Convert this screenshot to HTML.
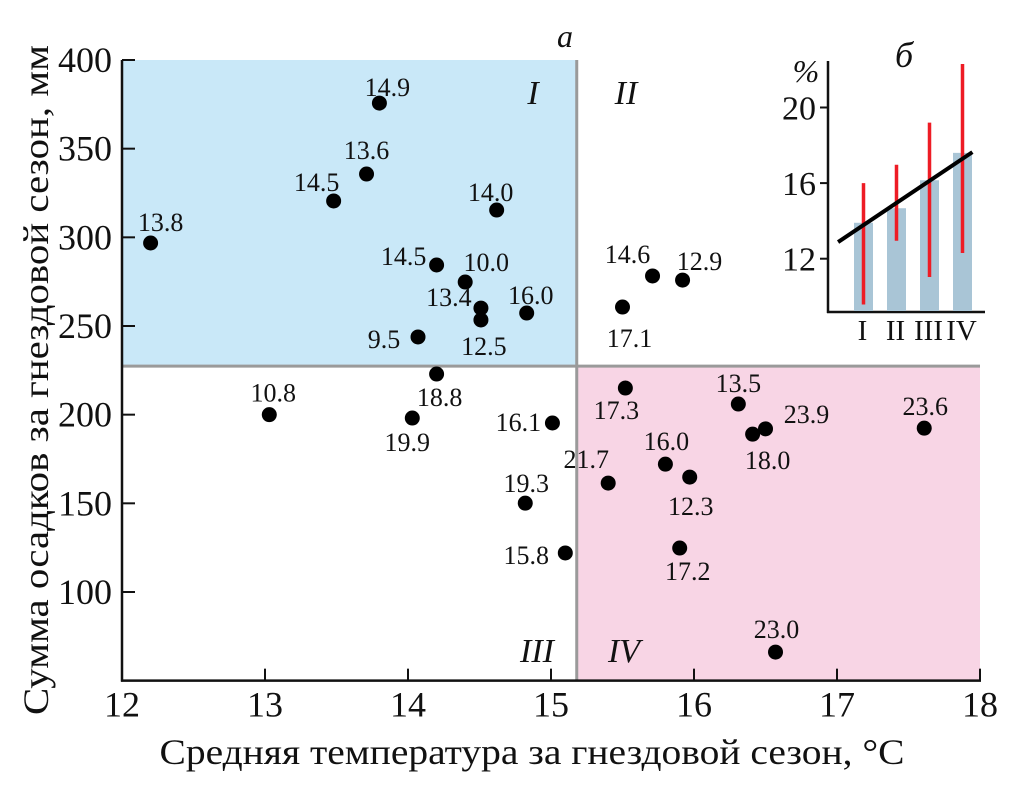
<!DOCTYPE html>
<html><head><meta charset="utf-8"><style>
body{margin:0;background:#fff}
svg text{font-family:"Liberation Serif",serif;fill:#111}
</style></head><body>
<svg id="chart" width="1010" height="792" viewBox="0 0 1010 792" xmlns="http://www.w3.org/2000/svg">
<g id="quads"></g>
<g id="axes"></g>
<g id="pts"></g>
<g id="inset"></g>
<text x="565" y="47" font-size="32" font-style="italic" text-anchor="middle">a</text>
<text x="532" y="764" font-size="36" text-anchor="middle" textLength="745" lengthAdjust="spacingAndGlyphs">Средняя температура за гнездовой сезон, °C</text>
<text transform="translate(48,380) rotate(-90)" font-size="36" text-anchor="middle" textLength="670" lengthAdjust="spacingAndGlyphs">Сумма осадков за гнездовой сезон, мм</text>
</svg>
<script>
const xTicks=[12,13,14,15,16,17,18];
const yTicks=[100,150,200,250,300,350,400];
const tempX=[13.80,13.71,13.48,14.62,12.20,14.20,14.40,14.51,14.51,14.83,14.07,15.71,15.92,15.50,14.20,13.03,14.03,15.01,14.82,15.10,15.52,16.31,16.50,16.41,17.61,15.80,15.40,15.97,15.90,16.57];
const precipY=[375.7,335.7,320.5,315.4,296.8,284.4,274.8,260.1,253.4,257.3,243.8,278.2,275.9,260.7,222.9,200,198.1,195.3,150.1,122,215,206,192,189,192.4,172.1,161.4,164.8,124.8,66.1];
const pointLabels=["14.9","13.6","14.5","14.0","13.8","14.5","10.0","13.4","12.5","16.0","9.5","14.6","12.9","17.1","18.8","10.8","19.9","16.1","19.3","15.8","17.3","13.5","23.9","18.0","23.6","16.0","21.7","12.3","17.2","23.0"];
const splitX=15.18, splitY=227.4;
// inset data
const insetCats=["I","II","III","IV"];
const insetBars=[13.9,14.67,16.15,17.6];
const insetErrHi=[16.0,16.97,19.2,22.3];
const insetErrLo=[9.58,12.95,11.03,12.3];
const insetTicks=[12,16,20];
const trendStart=12.88, trendEnd=17.64;

const NS="http://www.w3.org/2000/svg";
function mk(p,t,a){const e=document.createElementNS(NS,t);for(const k in a)e.setAttribute(k,a[k]);p.appendChild(e);return e;}
const X=v=>122+(v-12)*143, Y=v=>60+(400-v)*1.7733;
const labOff=[[8,-16],[0,-24],[-17,-19],[-6,-18],[10,-21],[-33,-9],[21,-20],[-32,-11],[3,26],[4,-18],[-34,2],[-25,-22],[17,-19],[7,31],[3,23],[4,-22],[-5,24],[-34,-1],[1,-20],[-39,2],[-9,22],[0,-21],[41,-15],[15,26],[1,-22],[1,-23],[-22,-24],[1,29],[8,23],[1,-23]];

const q=document.getElementById('quads');
let r=mk(q,'rect',{x:X(12),y:Y(400),width:X(splitX)-X(12),height:Y(splitY)-Y(400),fill:'#c9e8f8'});

r=mk(q,'rect',{x:X(splitX),y:Y(splitY),width:X(18)-X(splitX),height:Y(50)-Y(splitY),fill:'#f8d5e5'});

let l=mk(q,'line',{x1:X(splitX),x2:X(splitX),y1:Y(400),y2:Y(50),stroke:'#9a9a9a','stroke-width':3});

l=mk(q,'line',{x1:X(12),x2:X(18),y1:Y(splitY),y2:Y(splitY),stroke:'#9a9a9a','stroke-width':3});

[["I",533,104],["II",626,104],["III",537,662],["IV",624,662]].forEach(d=>{const t=mk(q,'text',{x:d[1],y:d[2],'font-size':34,'font-style':'italic','text-anchor':'middle'});t.textContent=d[0];
});

const ax=document.getElementById('axes');
mk(ax,'line',{x1:X(12),x2:X(12),y1:Y(400),y2:Y(50)+1,stroke:'#111','stroke-width':2.5});
mk(ax,'line',{x1:X(12)-1,x2:X(18)+1,y1:Y(50),y2:Y(50),stroke:'#111','stroke-width':2.5});
xTicks.forEach(v=>{mk(ax,'line',{x1:X(v),x2:X(v),y1:Y(50),y2:Y(50)-12,stroke:'#111','stroke-width':2});
const t=mk(ax,'text',{x:X(v),y:Y(50)+36,'font-size':36,'text-anchor':'middle'});t.textContent=v;
});
yTicks.forEach(v=>{mk(ax,'line',{x1:X(12),x2:X(12)+13,y1:Y(v),y2:Y(v),stroke:'#111','stroke-width':2});
const t=mk(ax,'text',{x:X(12)-10,y:Y(v)+12,'font-size':36,'text-anchor':'end'});t.textContent=v;
});

const pg=document.getElementById('pts');
tempX.forEach((v,i)=>{const cx=X(v),cy=Y(precipY[i]);
const c=mk(pg,'circle',{cx:cx,cy:cy,r:7.5,fill:'#000'});

const o=labOff[i]||[0,-20];
const t=mk(pg,'text',{x:cx+o[0],y:cy+o[1]+9,'font-size':26,'text-anchor':'middle'});t.textContent=pointLabels[i];
});

// inset
const ig=document.getElementById('inset');
const IY=v=>258.7-(v-12)*18.9, IX=i=>863.5+i*33;
mk(ig,'line',{x1:828,x2:828,y1:61,y2:313,stroke:'#111','stroke-width':2.5});
mk(ig,'line',{x1:827,x2:985,y1:312,y2:312,stroke:'#111','stroke-width':2.5});
insetTicks.forEach(v=>{mk(ig,'line',{x1:820,x2:828,y1:IY(v),y2:IY(v),stroke:'#111','stroke-width':2});
const t=mk(ig,'text',{x:816,y:IY(v)+12,'font-size':34,'text-anchor':'end'});t.textContent=v;
});
let pc=mk(ig,'text',{x:806,y:82,'font-size':32,'text-anchor':'middle','font-style':'italic'});pc.textContent='%';

pc=mk(ig,'text',{x:904,y:67,'font-size':36,'text-anchor':'middle','font-style':'italic'});pc.textContent='б';

insetBars.forEach((v,i)=>{const b=mk(ig,'rect',{x:IX(i)-9.5,y:IY(v),width:19,height:311-IY(v),fill:'#a9c5d6'});
});
insetErrHi.forEach((v,i)=>{const e=mk(ig,'line',{x1:IX(i),x2:IX(i),y1:IY(v),y2:IY(insetErrLo[i]),stroke:'#ee1c25','stroke-width':3.5});
});
const tl=mk(ig,'line',{x1:IX(-0.77),y1:IY(trendStart),x2:IX(3.3),y2:IY(trendEnd),stroke:'#000','stroke-width':4});

insetCats.forEach((c,i)=>{const t=mk(ig,'text',{x:IX(i)-1,y:340,'font-size':29,'text-anchor':'middle'});t.textContent=c;
});
</script>
</body></html>
